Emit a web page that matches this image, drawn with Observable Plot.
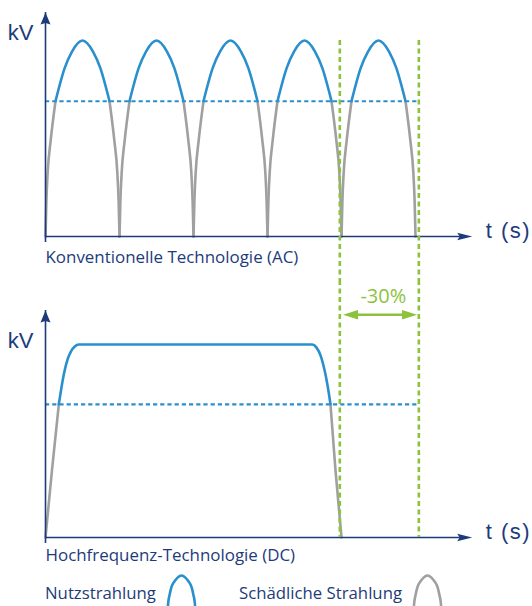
<!DOCTYPE html>
<html><head><meta charset="utf-8">
<script src="https://cdn.jsdelivr.net/npm/d3@7"></script>
<script src="https://cdn.jsdelivr.net/npm/@observablehq/plot@0.6"></script>
<style>
html,body{margin:0;padding:0;background:#fff;overflow:hidden;width:532px;height:606px}
#chart{position:relative;width:532px;height:606px}
#chart svg{overflow:visible}
.abs{position:absolute;left:0}
.tlabel text{letter-spacing:1.5px}
</style></head><body><div id="chart"></div>
<script>
// ---------------- data ----------------
const humpStarts = [0, 1, 2, 3, 4];                 // start of each AC half-wave (time units)
const humpU = [0, 0.012, 0.03, 0.07, 0.135, 0.26, 0.36, 0.5, 0.64, 0.74, 0.865, 0.93, 0.97, 0.988, 1];
const humpV = [0, 0.18, 0.33, 0.49, 0.69, 0.86, 0.945, 1, 0.945, 0.86, 0.69, 0.49, 0.33, 0.18, 0];
const dcT = [0, 0.088, 0.18, 0.25, 0.30, 0.345, 0.395, 0.45, 3.604, 3.66, 3.72, 3.775, 3.815, 3.851, 3.919, 4.0];
const dcV = [0, 0.35, 0.69, 0.85, 0.925, 0.965, 0.99, 1, 1, 0.985, 0.94, 0.86, 0.78, 0.69, 0.347, 0];
const threshold = 0.69;                             // useful-radiation threshold
const markerT = [3.977, 5.045];                     // green dashed lines
const axisEndT = 5.766;                             // end of time axis
const savingLabel = "-30%";
const yLabel = "kV", xLabel = "t (s)";
const titles = ["Konventionelle Technologie (AC)", "Hochfrequenz-Technologie (DC)"];
const legendLabels = ["Nutzstrahlung", "Schädliche Strahlung"];

// ---------------- styles ----------------
const NAVY = "#1d3b7b", BLUE = "#2a8fcd", GRAY = "#a0a0a0", GREEN = "#8cc23c";
const TXT_FONT = "'Open Sans', 'Noto Sans', sans-serif";
const LBL_FONT = "'Liberation Sans', Arial, sans-serif";
const W = 532, X0 = 45, XEND = 471.7;

// fit a font size so that a text gets a given width
const ctx2d = document.createElement("canvas").getContext("2d");
function fitSize(text, family, width) {
  ctx2d.font = `100px ${family}`;
  return 100 * width / ctx2d.measureText(text).width;
}
const titleSize = fitSize(titles[0], TXT_FONT, 253);
const legendSize = fitSize(legendLabels[0], TXT_FONT, 111);

const arrowUp = {draw(ctx, size) { const k = Math.sqrt(size / Math.PI);
  ctx.moveTo(0, 0); ctx.lineTo(5*k, 12*k); ctx.lineTo(0, 10.5*k); ctx.lineTo(-5*k, 12*k); ctx.closePath(); }};
const arrowRight = {draw(ctx, size) { const k = Math.sqrt(size / Math.PI);
  ctx.moveTo(0, 0); ctx.lineTo(-15*k, -3.8*k); ctx.lineTo(-12.5*k, 0); ctx.lineTo(-15*k, 3.8*k); ctx.closePath(); }};
const headR = {draw(ctx, size) { const k = Math.sqrt(size / Math.PI);
  ctx.moveTo(0, 0); ctx.lineTo(-15*k, -4.8*k); ctx.lineTo(-15*k, 4.8*k); ctx.closePath(); }};
const headL = {draw(ctx, size) { const k = Math.sqrt(size / Math.PI);
  ctx.moveTo(0, 0); ctx.lineTo(15*k, -4.8*k); ctx.lineTo(15*k, 4.8*k); ctx.closePath(); }};

function splitByThreshold(points, series) {
  const out = []; let cur = null, n = 0;
  for (let i = 0; i < points.length - 1; i++) {
    const p = points[i], q = points[i + 1];
    const kind = Math.min(p.v, q.v) >= threshold - 1e-9 ? "nutz" : "schad";
    if (!cur || cur.kind !== kind) { cur = {kind, id: series + "-" + (n++)}; out.push({...p, kind, id: cur.id}); }
    out.push({...q, kind, id: cur.id});
  }
  return out;
}
const acSegs = humpStarts.flatMap((s, h) =>
  splitByThreshold(humpU.map((u, i) => ({t: s + u, v: humpV[i]})), "h" + h));
const dcSegs = splitByThreshold(dcT.map((t, i) => ({t, v: dcV[i]})), "dc");

function curveMarks(segs) {
  return [
    Plot.line(segs.filter(d => d.kind === "schad"), {x: "t", y: "v", z: "id", stroke: GRAY, strokeWidth: 2.6, curve: "monotone-x"}),
    Plot.line(segs.filter(d => d.kind === "nutz"), {x: "t", y: "v", z: "id", stroke: BLUE, strokeWidth: 2.6, curve: "monotone-x"})
  ];
}

function panel({segs, title, height, mTop, mBottom, yMax, titleDy, labelDy, greenFrom, greenTo, extra = []}) {
  return Plot.plot({
    width: W, height, marginLeft: X0, marginRight: W - XEND, marginTop: mTop, marginBottom: mBottom,
    x: {domain: [0, axisEndT], axis: null},
    y: {domain: [0, yMax], axis: null},
    marks: [
      Plot.ruleY([threshold], {x1: 0, x2: markerT[1], stroke: BLUE, strokeWidth: 2.1, strokeDasharray: "4.2,3"}),
      ...curveMarks(segs),
      Plot.ruleY([0], {x1: 0, x2: axisEndT, stroke: NAVY, strokeWidth: 1.6, insetRight: 6}),
      Plot.ruleX([0], {y1: 0, y2: yMax, stroke: NAVY, strokeWidth: 1.6, insetTop: 6}),
      Plot.dot([0], {x: 0, y: yMax, symbol: arrowUp, r: 1, fill: NAVY, stroke: null}),
      Plot.dot([0], {x: axisEndT, y: 0, symbol: arrowRight, r: 1, fill: NAVY, stroke: null}),
      Plot.ruleX(markerT, {y1: greenFrom, y2: greenTo, stroke: GREEN, strokeWidth: 2.6, strokeDasharray: "5,3.5"}),
      Plot.text([yLabel], {x: 0, y: 1, text: d => d, dx: -12, dy: labelDy, textAnchor: "end", lineAnchor: "bottom",
        fontSize: 22, fontFamily: LBL_FONT, fill: NAVY}),
      Plot.text([xLabel], {x: axisEndT, y: 0, text: d => d, dx: 13.5, dy: 1, textAnchor: "start", lineAnchor: "bottom",
        fontSize: 22, fontFamily: LBL_FONT, fill: NAVY, className: "tlabel"}),
      Plot.text([title], {x: 0, y: 0, text: d => d, dy: titleDy, textAnchor: "start",
        lineAnchor: "bottom", fontSize: titleSize, fontFamily: TXT_FONT, fill: NAVY}),
      ...extra
    ]
  });
}

const chart = document.getElementById("chart");

// top panel: baseline at 236, peak (1) at 40
const h1 = 280, mT1 = 12, mB1 = 44, yMax1 = 224 / 196;
const pxPerV1 = (h1 - mT1 - mB1) / yMax1;
const p1 = panel({segs: acSegs, title: titles[0], height: h1, mTop: mT1, mBottom: mB1, yMax: yMax1, titleDy: 26.7, labelDy: -1,
  greenFrom: 1, greenTo: -mB1 / pxPerV1});
p1.classList.add("abs"); p1.style.top = "0px"; chart.appendChild(p1);

// bottom panel: baseline at page 537, flat top (1) at 344
const h2 = 296, mT2 = 30, mB2 = 39, yMax2 = 227 / 193;
const pxPerV2 = (h2 - mT2 - mB2) / yMax2;
const arrowLevel = (h2 - mB2 - 34.3) / pxPerV2;
const extra2 = [
  Plot.ruleY([arrowLevel], {x1: markerT[0], x2: markerT[1], stroke: GREEN, strokeWidth: 2.6, insetLeft: 8, insetRight: 8}),
  Plot.dot([0], {x: markerT[0], y: arrowLevel, symbol: headL, r: 1, dx: 3.2, fill: GREEN, stroke: null}),
  Plot.dot([0], {x: markerT[1], y: arrowLevel, symbol: headR, r: 1, dx: -1.8, fill: GREEN, stroke: null}),
  Plot.text([savingLabel], {x: (markerT[0] + markerT[1]) / 2, y: arrowLevel, text: d => d, dx: 4, dy: -12,
    textAnchor: "middle", lineAnchor: "bottom", fontSize: 20, fontFamily: TXT_FONT, fill: GREEN})
];
const p2 = panel({segs: dcSegs, title: titles[1], height: h2, mTop: mT2, mBottom: mB2, yMax: yMax2, titleDy: 23.7, labelDy: 3,
  greenFrom: (h2 - mB2) / pxPerV2, greenTo: 0, extra: extra2});
p2.classList.add("abs"); p2.style.top = "280px"; chart.appendChild(p2);

// legend
const legend = d3.create("svg").attr("width", W).attr("height", 46).attr("class", "abs").style("top", "560px");
legend.append("text").attr("x", 45).attr("y", 39.3).attr("fill", NAVY).attr("font-family", TXT_FONT)
  .attr("font-size", legendSize).text(legendLabels[0]);
legend.append("text").attr("x", 239).attr("y", 39.3).attr("fill", NAVY).attr("font-family", TXT_FONT)
  .attr("font-size", legendSize).text(legendLabels[1]);
chart.appendChild(legend.node());

function icon(color, left) {
  const prof = humpU.map((u, i) => ({u, v: humpV[i]}));
  const s = Plot.plot({width: 30, height: 40, marginTop: 1, marginBottom: 0, marginLeft: 1, marginRight: 1,
    x: {domain: [0, 1], axis: null}, y: {domain: [0, 1], axis: null},
    marks: [Plot.line(prof, {x: "u", y: "v", stroke: color, strokeWidth: 2.6, curve: "monotone-x"})]});
  s.classList.add("abs"); s.style.left = left + "px"; s.style.top = "574px";
  chart.appendChild(s);
}
icon(BLUE, 166);
icon(GRAY, 412);
</script></body></html>
